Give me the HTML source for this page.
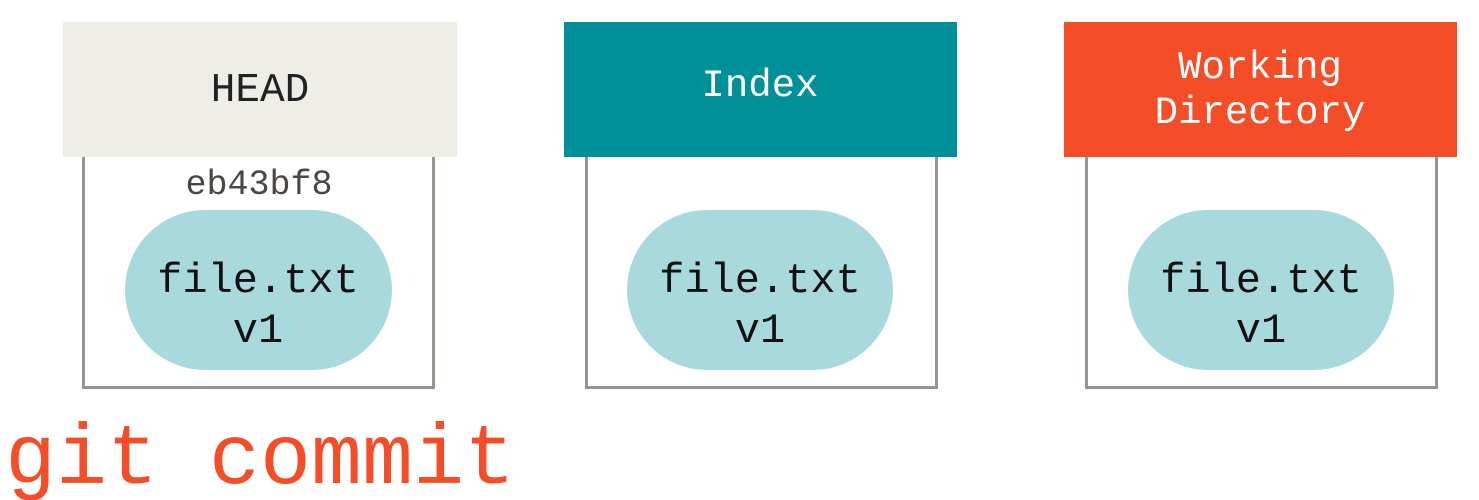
<!DOCTYPE html>
<html><head><meta charset="utf-8"><style>
html,body{margin:0;padding:0;background:#fff;width:1479px;height:500px;overflow:hidden}
svg{display:block}
text{font-family:"Liberation Mono","DejaVu Sans Mono",monospace}
</style></head><body>
<svg width="1479" height="500" viewBox="0 0 1479 500">
  <g>
    <rect x="63" y="22" width="394" height="135" fill="#eeede6"/>
    <text x="260" y="101" font-size="41" text-anchor="middle" fill="#222">HEAD</text>
    <path d="M83.5 157 V387.5 H433.5 V157" fill="none" stroke="#9a948e" stroke-width="3"/>
    <text x="259" y="194" font-size="35" text-anchor="middle" fill="#4a4642">eb43bf8</text>
    <rect x="125" y="210" width="267" height="160" rx="80" ry="80" fill="#a8d9dc"/>
    <text x="258" y="292" font-size="42" text-anchor="middle" fill="#111">file.txt</text>
    <text x="258" y="342" font-size="42" text-anchor="middle" fill="#111">v1</text>
  </g>
  <g>
    <rect x="564" y="22" width="393" height="135" fill="#00909a"/>
    <text x="760" y="96" font-size="39" text-anchor="middle" fill="#fff">Index</text>
    <path d="M586.5 157 V387.5 H936.5 V157" fill="none" stroke="#9a948e" stroke-width="3"/>
    <rect x="627" y="210" width="266" height="160" rx="80" ry="80" fill="#a8d9dc"/>
    <text x="760" y="292" font-size="42" text-anchor="middle" fill="#111">file.txt</text>
    <text x="760" y="342" font-size="42" text-anchor="middle" fill="#111">v1</text>
  </g>
  <g>
    <rect x="1064" y="22" width="393" height="135" fill="#f44d27"/>
    <text x="1260" y="78" font-size="39" text-anchor="middle" fill="#fff">Working</text>
    <text x="1260" y="123" font-size="39" text-anchor="middle" fill="#fff">Directory</text>
    <path d="M1086.5 157 V387.5 H1436.5 V157" fill="none" stroke="#9a948e" stroke-width="3"/>
    <rect x="1128" y="210" width="266" height="160" rx="80" ry="80" fill="#a8d9dc"/>
    <text x="1261" y="292" font-size="42" text-anchor="middle" fill="#111">file.txt</text>
    <text x="1261" y="342" font-size="42" text-anchor="middle" fill="#111">v1</text>
  </g>
  <text x="5" y="483" font-size="85" fill="#f44d27">git commit</text>
</svg>
</body></html>
